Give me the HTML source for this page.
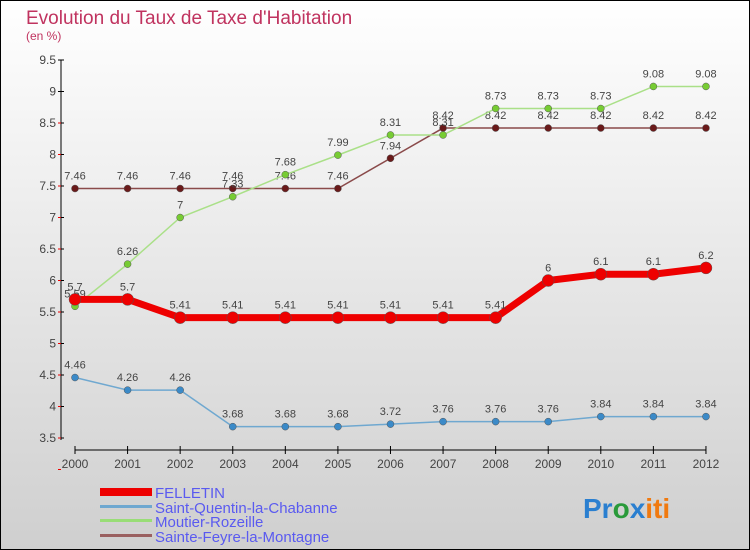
<!DOCTYPE html>
<html><head><meta charset="utf-8"><style>
body{margin:0}
svg{display:block;font-family:"Liberation Sans",sans-serif}
</style></head><body>
<svg id="c" width="750" height="550">
<defs><linearGradient id="bg" x1="0" y1="0" x2="0" y2="1"><stop offset="0" stop-color="#ffffff"/><stop offset="1" stop-color="#cfcfcf"/></linearGradient></defs>
<rect x="0.5" y="0.5" width="749" height="549" fill="url(#bg)" stroke="#000"/>
<text x="26" y="24" font-size="19" fill="#c0335f">Evolution du Taux de Taxe d'Habitation</text>
<text x="26" y="40" font-size="12" fill="#c0335f">(en %)</text>
<g id="axes"></g>
<g id="series"></g>
<g>
<rect x="100" y="488" width="52" height="8" fill="#e00"/>
<text x="155" y="498" font-size="15" fill="#5a5af0">FELLETIN</text>
<rect x="100" y="505" width="52" height="3" fill="#6fa8d0"/>
<text x="155" y="513" font-size="15" fill="#5a5af0">Saint-Quentin-la-Chabanne</text>
<rect x="100" y="519" width="52" height="3" fill="#99dd77"/>
<text x="155" y="527" font-size="15" fill="#5a5af0">Moutier-Rozeille</text>
<rect x="100" y="534" width="52" height="3" fill="#9a6060"/>
<text x="155" y="542" font-size="15" fill="#5a5af0">Sainte-Feyre-la-Montagne</text>
</g>
<text x="583" y="518" font-size="28" font-weight="bold"><tspan fill="#2a7fd0">Pr</tspan><tspan fill="#2a9a3a">o</tspan><tspan fill="#2a7fd0">x</tspan><tspan fill="#f07a10">iti</tspan></text>
</svg>
<script>
const years=[2000,2001,2002,2003,2004,2005,2006,2007,2008,2009,2010,2011,2012];
const yTicks=[3.5,4,4.5,5,5.5,6,6.5,7,7.5,8,8.5,9,9.5];
const felletin=[5.7,5.7,5.41,5.41,5.41,5.41,5.41,5.41,5.41,6,6.1,6.1,6.2];
const saintQuentin=[4.46,4.26,4.26,3.68,3.68,3.68,3.72,3.76,3.76,3.76,3.84,3.84,3.84];
const moutier=[5.59,6.26,7,7.33,7.68,7.99,8.31,8.31,8.73,8.73,8.73,9.08,9.08];
const sainteFeyre=[7.46,7.46,7.46,7.46,7.46,7.46,7.94,8.42,8.42,8.42,8.42,8.42,8.42];
const NS='http://www.w3.org/2000/svg';
const xS=i=>75+i*52.58;
const yS=v=>438-(v-3.5)*63;
function mk(t,a,p){const e=document.createElementNS(NS,t);for(const k in a)e.setAttribute(k,a[k]);p.appendChild(e);return e;}
const ax=document.getElementById('axes');
const yl=mk('line',{x1:61,y1:60,x2:61,y2:440,stroke:'#000'},ax);


yTicks.forEach(v=>{
 const y=yS(v);
 mk('line',{x1:58,y1:y,x2:64,y2:y,stroke:'#000'},ax);
 const r=mk('line',{x1:58,y1:y+31.5,x2:61,y2:y+31.5,stroke:'#e00'},ax);
 if(v===9.5)r.remove();
 const t=mk('text',{x:56,y:y+4,'font-size':12,fill:'#444','text-anchor':'end'},ax);
 t.textContent=String(v);
 
 
});
const xl=mk('line',{x1:75,y1:450,x2:706,y2:450,stroke:'#000'},ax);


years.forEach((yr,i)=>{
 const x=xS(i);
 mk('line',{x1:x,y1:446,x2:x,y2:454,stroke:'#000'},ax);
 const t=mk('text',{x:x,y:468,'font-size':12,fill:'#444','text-anchor':'middle'},ax);
 t.textContent=yr;
 
 
});
const sg=document.getElementById('series');
function draw(data,name,color,dot,w,r){
 const g=mk('g',{},sg);
 
 
 const pl=mk('polyline',{points:data.map((v,i)=>xS(i)+','+yS(v)).join(' '),fill:'none',stroke:color,'stroke-width':w},g);
 
 
 data.forEach((v,i)=>{
  const c=mk('circle',{cx:xS(i),cy:yS(v),r:r,fill:dot,stroke:'#555','stroke-width':0.5},g);
  
  
  const t=mk('text',{x:xS(i),y:yS(v)-9,'font-size':11,fill:'#444','text-anchor':'middle'},g);
  t.textContent=String(v);
  
  
 });
}
draw(sainteFeyre,'sainte-feyre','#8a4a4a','#6a1a1a',1.5,3.5);
draw(moutier,'moutier','#aae088','#77cc33',1.5,3.5);
draw(saintQuentin,'saint-quentin','#6fa8d0','#3b8ac8',1.5,3.5);
draw(felletin,'felletin','#ee0000','#ee0000',7,6);
</script>
</body></html>
